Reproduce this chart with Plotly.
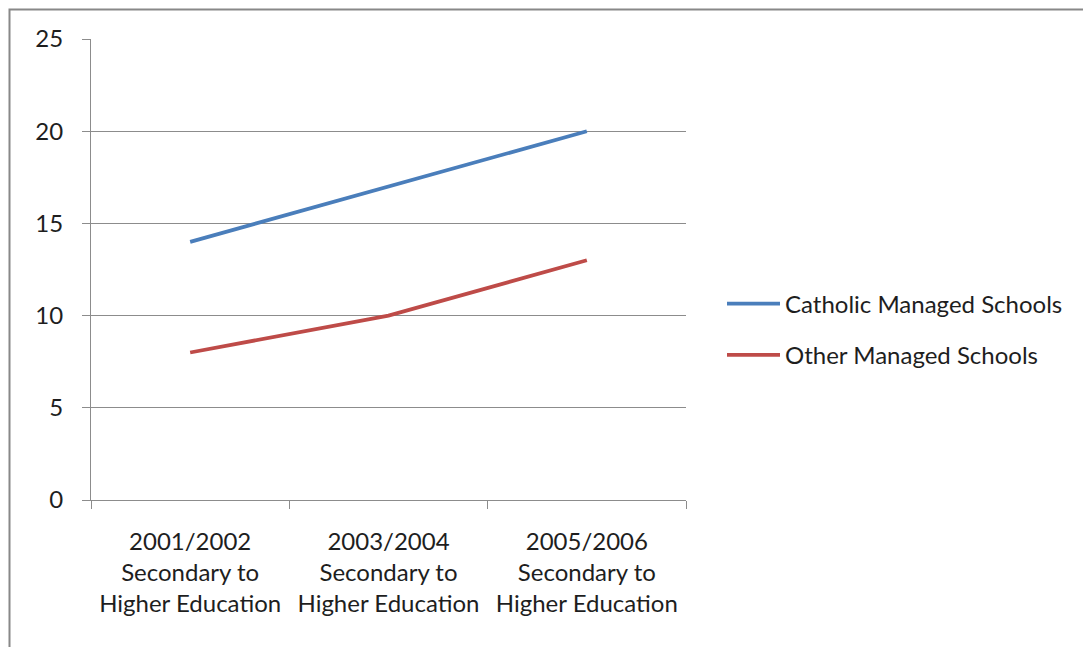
import plotly.graph_objects as go

categories = ["2001/2002<br>Secondary to<br>Higher Education",
              "2003/2004<br>Secondary to<br>Higher Education",
              "2005/2006<br>Secondary to<br>Higher Education"]
catholic = [14, 17, 20]
other = [8, 10, 13]
series_names = ["Catholic Managed Schools", "Other Managed Schools"]

FONT = "Lato, Open Sans, sans-serif"
GRID = "#8c8c8c"

fig = go.Figure()
fig.add_trace(go.Scatter(x=categories, y=catholic, mode="lines", name=series_names[0],
                         legendgroup="a",
                         line=dict(color="#4A7EBB", width=3.75)))
fig.add_trace(go.Scatter(x=categories, y=other, mode="lines", name=series_names[1],
                         legendgroup="b",
                         line=dict(color="#BE4B48", width=3.75)))

L, R, T, B = 91, 686, 39, 500
pw, ph = R - L, B - T

fig.update_layout(
    width=1083, height=647,
    margin=dict(l=L, r=1083 - R, t=T, b=647 - B),
    paper_bgcolor="white", plot_bgcolor="white",
    font=dict(family=FONT, size=24, color="#1e1e1e"),
    showlegend=True,
    legend=dict(x=(722 - L) / pw, xanchor="left", y=(B - 329.5) / ph, yanchor="middle",
                font=dict(size=24), itemwidth=53, bgcolor="rgba(0,0,0,0)",
                tracegroupgap=17),
    xaxis=dict(type="category", showgrid=False, showline=True, linecolor=GRID, linewidth=1,
               ticks="outside", tickson="boundaries", ticklen=8, tickcolor=GRID,
               range=[-0.5, 2.5], tickfont=dict(size=24), ticklabelstandoff=20),
    yaxis=dict(range=[0, 25], dtick=5, showgrid=True, gridcolor=GRID, gridwidth=1,
               showline=True, linecolor=GRID, linewidth=1, zeroline=False,
               ticks="outside", ticklen=8, tickcolor=GRID, tickfont=dict(size=24),
               ticklabelstandoff=14),
    shapes=[dict(type="rect", xref="paper", yref="paper",
                 x0=(9.5 - L) / pw, x1=(1200 - L) / pw,
                 y0=(B - 700) / ph, y1=(B - 9.5) / ph,
                 line=dict(color="#888888", width=2), fillcolor="rgba(0,0,0,0)", layer="below")],
)

fig.write_html("out.html", config={"displayModeBar": False},
               post_script="document.body.style.margin='0';")
